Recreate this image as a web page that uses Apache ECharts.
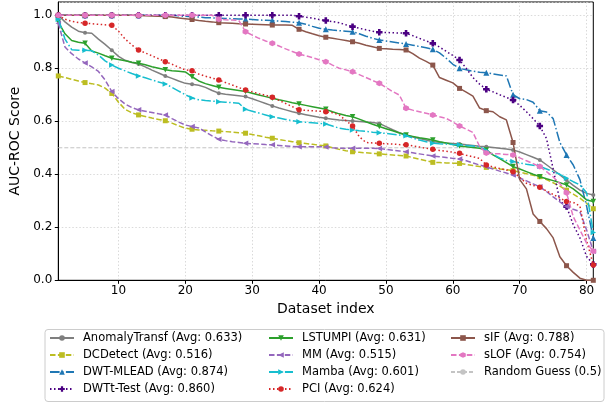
<!DOCTYPE html>
<html><head><meta charset="utf-8">
<script src="https://cdn.jsdelivr.net/npm/echarts@6/dist/echarts.min.js"></script>
<style>html,body{margin:0;padding:0;background:#fff}#c{width:610px;height:405px}</style>
</head><body><div id="c"></div><script>
const methods = ['AnomalyTransf','DCDetect','DWT-MLEAD','DWTt-Test','LSTUMPI','MM','Mamba','PCI','sIF','sLOF'];
const averages = [0.633,0.516,0.874,0.860,0.631,0.515,0.601,0.624,0.788,0.754];
const randomGuess = 0.5;
const xTicks = [10,20,30,40,50,60,70,80];
const yTicks = [0,0.2,0.4,0.6,0.8,1.0];

const anomalyTransf = [1.000,0.975,0.955,0.940,0.934,0.932,0.910,0.890,0.868,0.845,
 0.830,0.822,0.816,0.805,0.793,0.782,0.771,0.762,0.752,0.743,
 0.740,0.736,0.728,0.716,0.706,0.702,0.699,0.696,0.693,0.685,
 0.676,0.667,0.658,0.650,0.643,0.636,0.630,0.625,0.620,0.615,
 0.611,0.608,0.605,0.603,0.601,0.599,0.597,0.595,0.592,0.580,
 0.568,0.557,0.548,0.541,0.535,0.529,0.523,0.521,0.518,0.516,
 0.514,0.511,0.509,0.506,0.504,0.501,0.498,0.495,0.492,0.484,
 0.474,0.464,0.454,0.436,0.417,0.398,0.378,0.358,0.340,0.328,
 0.322];
const dcDetect = [0.771,0.765,0.758,0.752,0.746,0.742,0.737,0.725,0.705,0.672,
 0.645,0.632,0.624,0.618,0.612,0.607,0.602,0.593,0.583,0.574,
 0.570,0.567,0.566,0.564,0.563,0.561,0.559,0.557,0.555,0.550,
 0.545,0.540,0.536,0.531,0.527,0.523,0.519,0.516,0.513,0.510,
 0.507,0.500,0.494,0.489,0.485,0.483,0.481,0.479,0.477,0.475,
 0.473,0.471,0.469,0.463,0.457,0.451,0.445,0.444,0.443,0.442,
 0.441,0.437,0.433,0.429,0.426,0.423,0.420,0.417,0.414,0.408,
 0.402,0.396,0.391,0.380,0.368,0.355,0.340,0.325,0.310,0.290,
 0.270];
const dwtMlead = [1,1,1,1,1,1,1,1,1,1,
 1,1,1,1,1,1,1,1,0.998,0.996,
 0.994,0.993,0.991,0.990,0.989,0.988,0.987,0.986,0.985,0.984,
 0.982,0.981,0.980,0.978,0.976,0.974,0.972,0.966,0.958,0.951,
 0.947,0.944,0.942,0.940,0.938,0.930,0.921,0.913,0.907,0.903,
 0.899,0.895,0.892,0.887,0.882,0.877,0.872,0.858,0.838,0.815,
 0.800,0.794,0.789,0.785,0.783,0.779,0.775,0.771,0.700,0.685,
 0.682,0.672,0.640,0.635,0.610,0.520,0.473,0.435,0.380,0.280,
 0.160];
const dwttTest = [1,1,1,1,1,1,1,1,1,1,
 1,1,1,1,1,1,1,1,1,1,
 1,1,1,1,1,1,1,1,1,1,
 1,1,1,1,1,1,0.996,0.993,0.989,0.984,
 0.980,0.976,0.972,0.964,0.957,0.951,0.945,0.940,0.936,0.935,
 0.934,0.933,0.932,0.923,0.913,0.903,0.894,0.880,0.864,0.848,
 0.831,0.800,0.765,0.740,0.721,0.711,0.700,0.690,0.680,0.660,
 0.636,0.610,0.582,0.535,0.420,0.300,0.278,0.210,0.160,0.090,
 0.060];
const lstumpi = [0.975,0.930,0.905,0.898,0.894,0.865,0.857,0.847,0.838,0.833,
 0.828,0.823,0.819,0.813,0.806,0.800,0.794,0.791,0.789,0.786,
 0.768,0.752,0.742,0.735,0.728,0.724,0.720,0.716,0.712,0.706,
 0.699,0.693,0.687,0.681,0.676,0.670,0.665,0.660,0.655,0.650,
 0.645,0.636,0.628,0.622,0.617,0.608,0.598,0.589,0.580,0.572,
 0.564,0.556,0.548,0.543,0.538,0.534,0.529,0.523,0.518,0.512,
 0.507,0.504,0.501,0.498,0.492,0.473,0.459,0.444,0.429,0.420,
 0.410,0.400,0.391,0.383,0.376,0.368,0.360,0.345,0.325,0.303,
 0.297];
const mm = [0.970,0.880,0.855,0.835,0.820,0.805,0.788,0.756,0.712,0.685,
 0.665,0.652,0.643,0.638,0.633,0.628,0.624,0.610,0.597,0.586,
 0.580,0.575,0.560,0.545,0.532,0.527,0.523,0.520,0.517,0.515,
 0.514,0.512,0.511,0.509,0.507,0.505,0.504,0.504,0.504,0.504,
 0.503,0.500,0.498,0.498,0.498,0.498,0.498,0.498,0.497,0.494,
 0.491,0.488,0.485,0.481,0.477,0.473,0.469,0.466,0.463,0.460,
 0.458,0.451,0.443,0.435,0.428,0.420,0.412,0.405,0.397,0.386,
 0.375,0.364,0.353,0.335,0.315,0.296,0.278,0.268,0.259,0.190,
 0.110];
const mamba = [0.985,0.910,0.870,0.868,0.868,0.866,0.850,0.828,0.812,0.800,
 0.790,0.780,0.771,0.764,0.756,0.748,0.741,0.728,0.714,0.700,
 0.688,0.681,0.678,0.676,0.674,0.672,0.670,0.668,0.645,0.638,
 0.631,0.624,0.617,0.612,0.607,0.602,0.598,0.596,0.594,0.592,
 0.590,0.582,0.574,0.570,0.567,0.564,0.562,0.559,0.557,0.554,
 0.551,0.548,0.545,0.537,0.529,0.523,0.517,0.515,0.514,0.512,
 0.511,0.509,0.507,0.504,0.490,0.475,0.462,0.452,0.448,0.443,
 0.438,0.434,0.430,0.420,0.410,0.400,0.385,0.372,0.360,0.330,
 0.180];
const pci = [1.000,0.985,0.977,0.973,0.970,0.968,0.966,0.964,0.962,0.940,
 0.910,0.888,0.869,0.858,0.847,0.836,0.825,0.815,0.804,0.794,
 0.791,0.778,0.770,0.763,0.756,0.746,0.737,0.727,0.718,0.711,
 0.704,0.698,0.691,0.679,0.667,0.655,0.643,0.641,0.640,0.638,
 0.636,0.632,0.624,0.603,0.582,0.542,0.520,0.518,0.517,0.515,
 0.514,0.512,0.511,0.507,0.503,0.498,0.494,0.490,0.487,0.483,
 0.479,0.472,0.466,0.460,0.435,0.428,0.422,0.416,0.410,0.388,
 0.366,0.358,0.351,0.337,0.324,0.310,0.297,0.294,0.280,0.150,
 0.058];
const sif = [1,1,1,1,1,1,1,1,1,1,
 1,1,0.999,0.998,0.997,0.996,0.995,0.993,0.990,0.987,
 0.984,0.980,0.977,0.975,0.972,0.971,0.970,0.968,0.967,0.966,
 0.965,0.964,0.963,0.963,0.963,0.962,0.947,0.938,0.930,0.923,
 0.917,0.913,0.909,0.905,0.900,0.894,0.887,0.881,0.875,0.874,
 0.872,0.871,0.869,0.855,0.838,0.826,0.812,0.765,0.755,0.745,
 0.724,0.710,0.695,0.650,0.640,0.636,0.617,0.605,0.520,0.380,
 0.345,0.250,0.222,0.195,0.160,0.089,0.055,0.030,0.008,0.000,
 0.000];
const slof = [1,1,1,1,1,1,1,1,1,1,
 1,1,1,1,1,1,1,1,1,1,
 1,1,1,1,0.985,0.983,0.982,0.980,0.938,0.925,
 0.913,0.903,0.894,0.884,0.873,0.863,0.854,0.847,0.840,0.832,
 0.825,0.812,0.800,0.794,0.787,0.776,0.765,0.754,0.743,0.728,
 0.712,0.699,0.649,0.642,0.636,0.630,0.624,0.617,0.611,0.597,
 0.582,0.570,0.558,0.505,0.480,0.478,0.477,0.475,0.473,0.462,
 0.451,0.440,0.429,0.410,0.390,0.365,0.330,0.240,0.190,0.140,
 0.110];

const seriesValues = [anomalyTransf, dcDetect, dwtMlead, dwttTest, lstumpi, mm, mamba, pci, sif, slof];

// styles
const DASH = [5.5, 2.4], DASHDOT = [9.6, 2.4, 1.5, 2.4], DOT = [1.5, 2.5];
const PLUS = 'path://M3,0 H7 V3 H10 V7 H7 V10 H3 V7 H0 V3 H3 Z';
const HEX = 'path://M5,0 L9.33,2.5 L9.33,7.5 L5,10 L0.67,7.5 L0.67,2.5 Z';
const TRI_DOWN = 'path://M0,0 L10,0 L5,10 Z';
const TRI_LEFT = 'path://M10,0 L10,10 L0,5 Z';
const TRI_RIGHT = 'path://M0,0 L10,5 L0,10 Z';
const styles = [
  {color:'#7f7f7f', type:'solid', symbol:'circle', size:4},
  {color:'#bcbd22', type:DASH, symbol:'rect', size:5},
  {color:'#1f77b4', type:DASHDOT, symbol:'triangle', size:6},
  {color:'#4b0082', type:DOT, symbol:PLUS, size:6.5},
  {color:'#2ca02c', type:'solid', symbol:TRI_DOWN, size:5.5},
  {color:'#9467bd', type:DASH, symbol:TRI_LEFT, size:5.5},
  {color:'#17becf', type:DASHDOT, symbol:TRI_RIGHT, size:5.5},
  {color:'#d62728', type:DOT, symbol:'circle', size:5.5},
  {color:'#8c564b', type:'solid', symbol:'rect', size:5},
  {color:'#e377c2', type:DASH, symbol:HEX, size:6}
];

const names = methods.map((m, i) => `${m} (Avg: ${averages[i].toFixed(3)})`);
const rgName = `Random Guess (${randomGuess})`;

const series = seriesValues.map((vals, i) => {
  const st = styles[i];
  return {
    name: names[i], type: 'line',
    symbol: st.symbol, symbolSize: st.size, showSymbol: true, showAllSymbol: true,
    lineStyle: {color: st.color, width: 1.5, type: st.type},
    itemStyle: {color: st.color},
    emphasis: {disabled: true},
    z: 2 + i,
    data: vals.map((v, k) => k % 4 === 0 ? [k + 1, v] : {value: [k + 1, v], symbol: 'none'})
  };
});
series.push({
  name: rgName, type: 'line', symbol: 'none', z: 1,
  lineStyle: {color: '#c4c4c4', width: 1, type: [4, 2]},
  itemStyle: {color: '#c4c4c4'},
  emphasis: {disabled: true},
  data: [[1, randomGuess], [81, randomGuess]]
});

const font = 'DejaVu Sans';
const legendCommon = {
  orient: 'vertical', top: 331, itemWidth: 24, itemHeight: 7, itemGap: 3, padding: 0,
  selectedMode: false,
  textStyle: {fontFamily: font, fontSize: 11.5, lineHeight: 14, color: '#000', padding: [0, 0, 0, 4]}
};

const chart = echarts.init(document.getElementById('c'), null, {renderer: 'canvas'});
chart.setOption({
  animation: false,
  backgroundColor: '#fff',
  textStyle: {fontFamily: font},
  grid: {left: 58.3, right: 16.7, top: 2, bottom: 124.7, show: true, borderColor: '#000', borderWidth: 1, backgroundColor: 'transparent'},
  xAxis: {
    type: 'value', min: 1, max: 81,
    name: 'Dataset index', nameLocation: 'middle', nameGap: 20,
    nameTextStyle: {fontFamily: font, fontSize: 14, color: '#000'},
    axisLine: {lineStyle: {color: '#000', width: 1}},
    axisTick: {show: true, length: 3.5, lineStyle: {color: '#000'}, customValues: xTicks},
    axisLabel: {fontFamily: font, fontSize: 12, color: '#000', margin: 5, customValues: xTicks},
    splitLine: {show: true, lineStyle: {color: '#d0d0d0', type: [1.5, 2], width: 0.8}}
  },
  yAxis: {
    type: 'value', min: 0, max: 1.05, interval: 0.2,
    name: 'AUC-ROC Score', nameLocation: 'middle', nameGap: 30, nameRotate: 90,
    nameTextStyle: {fontFamily: font, fontSize: 14, color: '#000'},
    axisLine: {show: true, lineStyle: {color: '#000', width: 1}},
    axisTick: {show: true, length: 3.5, lineStyle: {color: '#000'}},
    axisLabel: {fontFamily: font, fontSize: 12, color: '#000', margin: 6, showMaxLabel: false,
      formatter: v => (yTicks.some(t => Math.abs(t - v) < 1e-6) ? v.toFixed(1) : '')},
    splitLine: {show: true, lineStyle: {color: '#d0d0d0', type: [1.5, 2], width: 0.8}}
  },
  legend: [
    Object.assign({left: 49, data: names.slice(0, 4)}, legendCommon),
    Object.assign({left: 268, data: names.slice(4, 8)}, legendCommon),
    Object.assign({left: 450, data: names.slice(8).concat([rgName])}, legendCommon)
  ],
  graphic: [{
    type: 'rect', left: 44.5, top: 329, z: -1,
    shape: {width: 559, height: 72, r: 3},
    style: {fill: '#fff', stroke: '#cccccc', lineWidth: 1}
  }],
  series: series
});
</script></body></html>
